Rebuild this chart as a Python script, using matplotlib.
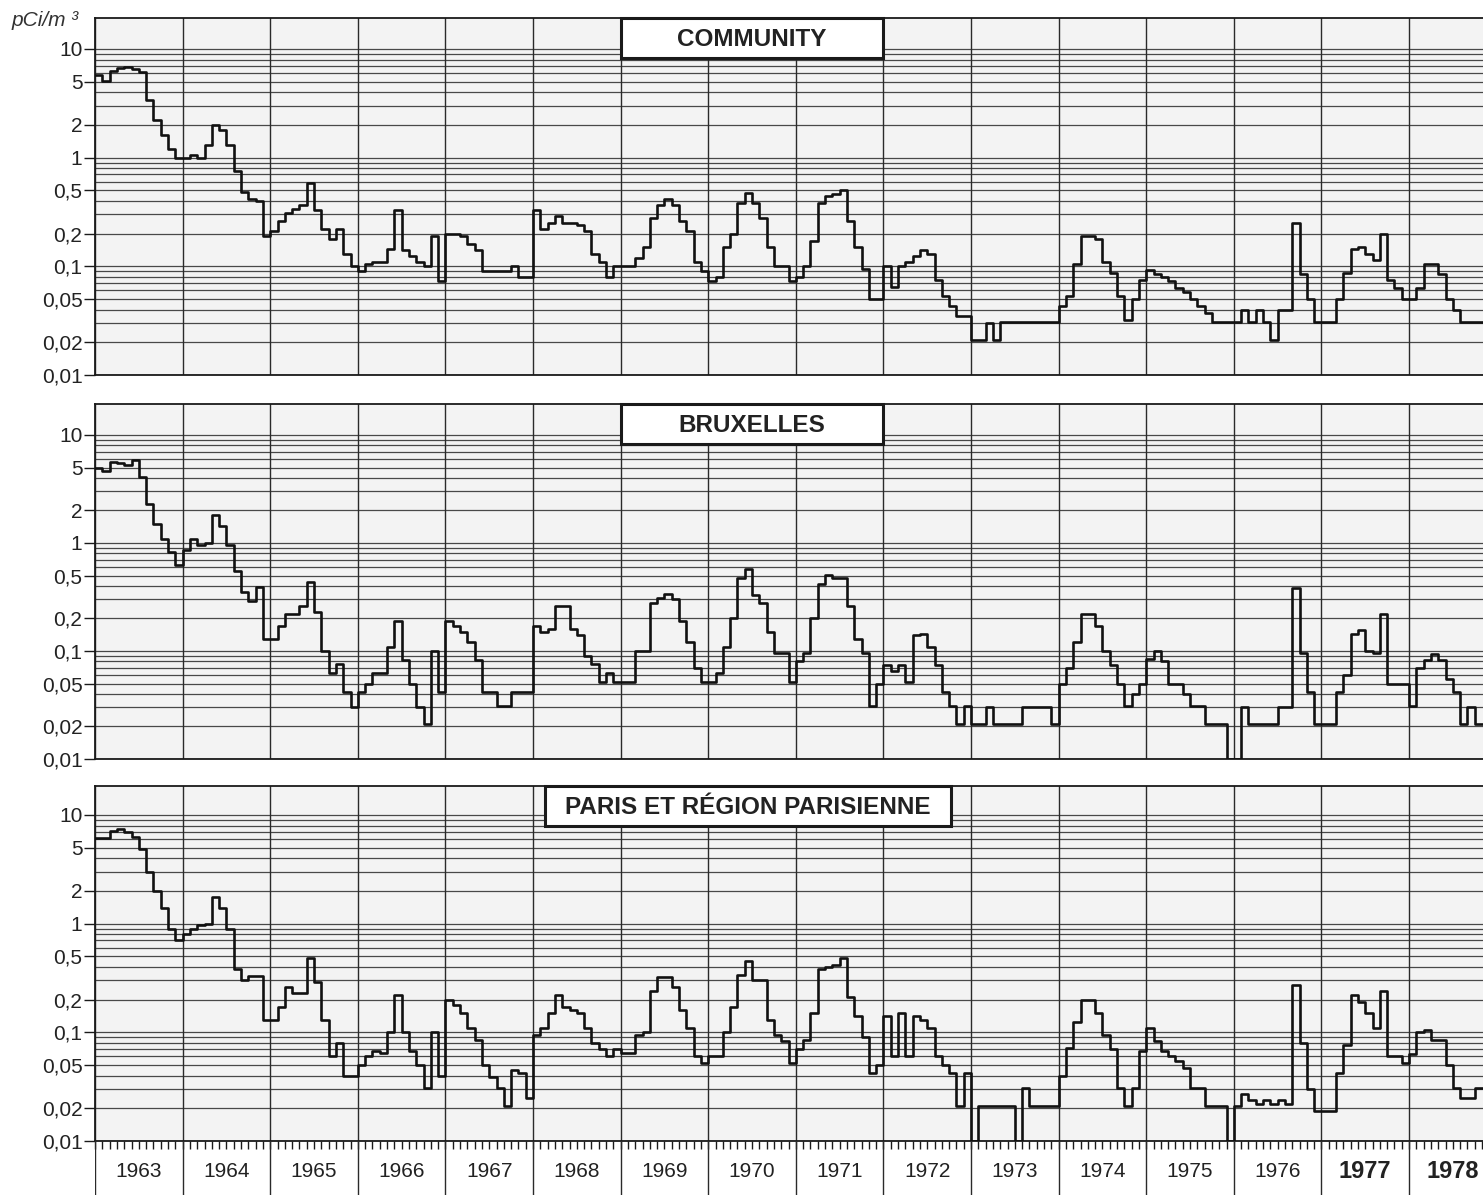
import numpy as np
import matplotlib
matplotlib.use('Agg')
import matplotlib.pyplot as plt
import matplotlib.transforms as mtransforms
from matplotlib.patches import Rectangle
from matplotlib.ticker import LogLocator, NullFormatter

plt.rcParams['font.family'] = ['Liberation Sans', 'DejaVu Sans']

# ---------------- data ----------------
years = list(range(1963, 1979))
panel_titles = ['COMMUNITY', 'BRUXELLES', 'PARIS ET RÉGION PARISIENNE']
ytick_values = [0.01, 0.02, 0.05, 0.1, 0.2, 0.5, 1, 2, 5, 10]
ytick_labels = ['0,01', '0,02', '0,05', '0,1', '0,2', '0,5', '1', '2', '5', '10']
unit_label = 'pCi/m ³'

# monthly values (pCi/m3), starting January 1963
community = [
    5.8, 5.1, 6.3, 6.7, 6.9, 6.5, 6.2, 3.4, 2.2, 1.6, 1.2, 1.0,            # 1963
    1.0, 1.05, 1.0, 1.3, 2.0, 1.8, 1.3, 0.75, 0.48, 0.42, 0.4, 0.19,       # 1964
    0.21, 0.26, 0.31, 0.34, 0.37, 0.58, 0.33, 0.22, 0.18, 0.22, 0.13, 0.1, # 1965
    0.09, 0.105, 0.11, 0.11, 0.145, 0.33, 0.14, 0.125, 0.11, 0.1, 0.19, 0.073,  # 1966
    0.2, 0.2, 0.19, 0.16, 0.14, 0.09, 0.09, 0.09, 0.09, 0.1, 0.08, 0.08,   # 1967
    0.33, 0.22, 0.25, 0.29, 0.25, 0.25, 0.24, 0.21, 0.13, 0.11, 0.08, 0.1, # 1968
    0.1, 0.1, 0.12, 0.15, 0.28, 0.37, 0.42, 0.37, 0.26, 0.21, 0.11, 0.09,  # 1969
    0.073, 0.08, 0.15, 0.2, 0.38, 0.47, 0.38, 0.28, 0.15, 0.1, 0.1, 0.073, # 1970
    0.08, 0.1, 0.17, 0.38, 0.44, 0.46, 0.5, 0.26, 0.15, 0.095, 0.05, 0.05, # 1971
    0.1, 0.065, 0.1, 0.11, 0.125, 0.14, 0.13, 0.075, 0.053, 0.043, 0.035, 0.035,  # 1972
    0.021, 0.021, 0.03, 0.021, 0.031, 0.031, 0.031, 0.031, 0.031, 0.031, 0.031, 0.031,  # 1973
    0.043, 0.053, 0.105, 0.19, 0.19, 0.18, 0.11, 0.086, 0.053, 0.032, 0.05, 0.075,  # 1974
    0.093, 0.085, 0.08, 0.073, 0.063, 0.058, 0.05, 0.043, 0.037, 0.031, 0.031, 0.031,  # 1975
    0.031, 0.04, 0.031, 0.04, 0.031, 0.021, 0.04, 0.04, 0.25, 0.085, 0.05, 0.031,  # 1976
    0.031, 0.031, 0.05, 0.086, 0.145, 0.15, 0.13, 0.115, 0.2, 0.075, 0.063, 0.05,  # 1977
    0.05, 0.063, 0.105, 0.105, 0.085, 0.05, 0.04, 0.031, 0.031, 0.031, 0.031,      # 1978
]

bruxelles = [
    5.0, 4.6, 5.6, 5.5, 5.3, 5.9, 4.1, 2.3, 1.5, 1.1, 0.83, 0.63,          # 1963
    0.86, 1.1, 0.95, 1.0, 1.8, 1.45, 0.95, 0.55, 0.35, 0.29, 0.39, 0.13,   # 1964
    0.13, 0.17, 0.22, 0.22, 0.26, 0.44, 0.23, 0.1, 0.062, 0.075, 0.042, 0.03,  # 1965
    0.042, 0.05, 0.062, 0.062, 0.11, 0.19, 0.083, 0.05, 0.03, 0.021, 0.1, 0.042,  # 1966
    0.19, 0.17, 0.15, 0.12, 0.083, 0.042, 0.042, 0.031, 0.031, 0.042, 0.042, 0.042,  # 1967
    0.17, 0.15, 0.16, 0.26, 0.26, 0.16, 0.14, 0.09, 0.075, 0.052, 0.062, 0.052,  # 1968
    0.052, 0.052, 0.1, 0.1, 0.28, 0.31, 0.34, 0.3, 0.19, 0.12, 0.07, 0.052,  # 1969
    0.052, 0.062, 0.11, 0.2, 0.47, 0.58, 0.33, 0.28, 0.15, 0.095, 0.095, 0.052,  # 1970
    0.08, 0.095, 0.2, 0.42, 0.51, 0.47, 0.47, 0.26, 0.13, 0.095, 0.031, 0.05,  # 1971
    0.074, 0.065, 0.074, 0.052, 0.14, 0.145, 0.11, 0.074, 0.042, 0.031, 0.021, 0.031,  # 1972
    0.021, 0.021, 0.03, 0.021, 0.021, 0.021, 0.021, 0.03, 0.03, 0.03, 0.03, 0.021,  # 1973
    0.05, 0.07, 0.12, 0.22, 0.22, 0.17, 0.1, 0.074, 0.05, 0.031, 0.04, 0.05,  # 1974
    0.085, 0.1, 0.08, 0.05, 0.05, 0.04, 0.031, 0.031, 0.021, 0.021, 0.021, 0.01,  # 1975
    0.01, 0.03, 0.021, 0.021, 0.021, 0.021, 0.03, 0.03, 0.38, 0.095, 0.042, 0.021,  # 1976
    0.021, 0.021, 0.042, 0.06, 0.145, 0.155, 0.1, 0.095, 0.22, 0.05, 0.05, 0.05,  # 1977
    0.031, 0.07, 0.083, 0.094, 0.083, 0.055, 0.042, 0.021, 0.03, 0.021, 0.021,  # 1978
]

paris = [
    6.1, 6.1, 7.1, 7.5, 7.0, 6.3, 4.9, 3.0, 2.0, 1.4, 0.9, 0.7,            # 1963
    0.81, 0.9, 0.98, 1.0, 1.75, 1.4, 0.9, 0.38, 0.3, 0.33, 0.33, 0.13,     # 1964
    0.13, 0.17, 0.26, 0.23, 0.23, 0.48, 0.29, 0.13, 0.06, 0.08, 0.04, 0.04,  # 1965
    0.05, 0.06, 0.068, 0.065, 0.1, 0.22, 0.1, 0.068, 0.05, 0.031, 0.1, 0.04,  # 1966
    0.2, 0.18, 0.15, 0.11, 0.085, 0.05, 0.039, 0.031, 0.021, 0.045, 0.042, 0.025,  # 1967
    0.095, 0.11, 0.15, 0.22, 0.17, 0.16, 0.15, 0.11, 0.08, 0.07, 0.06, 0.07,  # 1968
    0.065, 0.065, 0.095, 0.1, 0.24, 0.32, 0.32, 0.26, 0.16, 0.11, 0.06, 0.052,  # 1969
    0.06, 0.06, 0.1, 0.17, 0.34, 0.45, 0.3, 0.3, 0.13, 0.095, 0.083, 0.052,  # 1970
    0.07, 0.085, 0.15, 0.38, 0.4, 0.42, 0.48, 0.21, 0.14, 0.09, 0.042, 0.05,  # 1971
    0.14, 0.06, 0.15, 0.06, 0.14, 0.13, 0.11, 0.06, 0.05, 0.042, 0.021, 0.042,  # 1972
    0.01, 0.021, 0.021, 0.021, 0.021, 0.021, 0.01, 0.031, 0.021, 0.021, 0.021, 0.021,  # 1973
    0.04, 0.072, 0.125, 0.2, 0.2, 0.15, 0.095, 0.07, 0.031, 0.021, 0.031, 0.068,  # 1974
    0.11, 0.083, 0.068, 0.06, 0.054, 0.047, 0.031, 0.031, 0.021, 0.021, 0.021, 0.01,  # 1975
    0.021, 0.027, 0.024, 0.022, 0.024, 0.022, 0.024, 0.022, 0.27, 0.08, 0.03, 0.019,  # 1976
    0.019, 0.019, 0.042, 0.077, 0.22, 0.19, 0.15, 0.11, 0.24, 0.06, 0.06, 0.052,  # 1977
    0.063, 0.1, 0.105, 0.085, 0.085, 0.05, 0.031, 0.025, 0.025, 0.031, 0.031,  # 1978
]

series = [community, bruxelles, paris]

# ---------------- layout ----------------
W, H = 1483, 1195
fig = plt.figure(figsize=(W / 100, H / 100), dpi=100, facecolor='white')

left_px = 95
px_per_year = 87.6
x_start = years[0]
x_end = x_start + (W - left_px) / px_per_year

# (top px, y of "10" px, bottom px)
panels_px = [(18, 49, 375), (404, 435, 759), (786, 815, 1141)]
title_spans = [(1969.0, 1972.0), (1969.0, 1972.0), (1968.14, 1972.77)]
box_bottom_frac = 0.888

ink = '#1a1a1a'
axes_list = []
for i, (top, y10, bot) in enumerate(panels_px):
    ax = fig.add_axes([left_px / W, 1 - bot / H, 1 - left_px / W, (bot - top) / H])
    ax.set_facecolor('#f3f3f3')
    dec = (bot - y10) / 3.0
    ymax = 10 ** (1 + (y10 - top) / dec)
    ax.set_yscale('log')
    ax.set_ylim(0.01, ymax)
    ax.set_xlim(x_start, x_end)

    # grid
    ax.yaxis.set_minor_locator(LogLocator(base=10, subs=np.arange(2, 10)))
    ax.yaxis.set_minor_formatter(NullFormatter())
    ax.grid(which='both', axis='y', color='#2a2a2a', lw=0.9, alpha=0.85, zorder=1)
    for yr in years:
        ax.axvline(yr, color='#2a2a2a', lw=1.0, zorder=1)

    ax.set_yticks(ytick_values)
    ax.set_yticklabels(ytick_labels)
    ax.tick_params(axis='y', which='major', direction='out', length=8, width=1.0,
                   pad=1, labelsize=15, labelcolor='#222222', color=ink)
    ax.tick_params(axis='y', which='minor', length=0)

    for s in ['top', 'left', 'bottom']:
        ax.spines[s].set_color(ink)
        ax.spines[s].set_linewidth(1.3)
    ax.spines['right'].set_visible(False)

    # data (monthly step)
    vals = series[i]
    xs = x_start + np.arange(len(vals) + 1) / 12.0
    ys = list(vals) + [vals[-1]]
    ax.step(xs, ys, where='post', color='#111111', lw=1.9, zorder=3)

    # title box
    trans = mtransforms.blended_transform_factory(ax.transData, ax.transAxes)
    x0, x1 = title_spans[i]
    ax.add_patch(Rectangle((x0, box_bottom_frac), x1 - x0, 1 - box_bottom_frac,
                           transform=trans, facecolor='white', edgecolor=ink,
                           lw=2.2, zorder=6, clip_on=False))
    ax.text((x0 + x1) / 2, (1 + box_bottom_frac) / 2 - 0.005, panel_titles[i],
            transform=trans, ha='center', va='center', fontsize=17.5,
            fontweight='bold', color='#222222', zorder=7)

    if i < 2:
        ax.set_xticks([])
    else:
        n_months = int(round((x_end - x_start) * 12))
        ax.set_xticks([])
        ax.set_xticks(x_start + np.arange(n_months + 1) / 12.0, minor=True)
        ax.tick_params(axis='x', which='minor', direction='out', length=6,
                       width=1.0, color=ink, labelbottom=False)
    axes_list.append(ax)

# unit label
fig.text(12 / W, 1 - 21 / H, unit_label, fontsize=15, style='italic',
         color='#333333', ha='left', va='center')

# bottom strip with year labels
strip_top = panels_px[2][2]
ax_s = fig.add_axes([left_px / W, 0, 1 - left_px / W, (H - strip_top) / H])
ax_s.set_xlim(x_start, x_end)
ax_s.set_ylim(0, 1)
ax_s.axis('off')
for yr in years:
    ax_s.axvline(yr, color='#2a2a2a', lw=1.0)
    bold = yr >= 1977
    ax_s.text(yr + 0.5, 0.43, str(yr), ha='center', va='center',
              fontsize=17 if bold else 15, fontweight='bold' if bold else 'normal',
              color='#222222')

fig.savefig('out.png', dpi=100, facecolor='white')
